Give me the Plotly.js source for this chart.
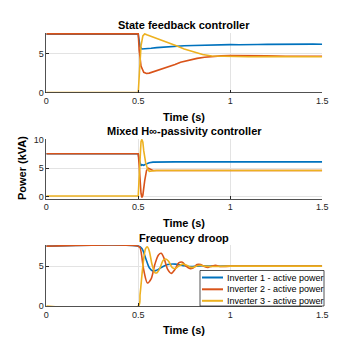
<!DOCTYPE html>
<html>
<head>
<meta charset="utf-8">
<script src="https://cdn.plot.ly/plotly-3.0.1.min.js"></script>
<style>
  html, body { margin: 0; padding: 0; background: #fff; }
  #chart { width: 356px; height: 356px; }
</style>
</head>
<body>
<div id="chart"></div>
<script>
// series names
var names = ['Inverter 1 - active power', 'Inverter 2 - active power', 'Inverter 3 - active power'];
var colors = ['#0072BD', '#D95319', '#EDB120'];

// State feedback controller
var sfT1 = [0, 0.5, 0.503, 0.51, 0.52, 0.54, 0.57, 0.6, 0.65, 0.7, 0.75, 0.8, 0.85, 0.9, 0.95, 1.0, 1.05, 1.1, 1.15, 1.2, 1.25, 1.3, 1.35, 1.4, 1.45, 1.5];
var sfP1 = [7.5, 7.5, 7.0, 5.9, 5.6, 5.62, 5.7, 5.78, 5.88, 5.95, 6.02, 6.06, 6.1, 6.12, 6.15, 6.17, 6.15, 6.2, 6.18, 6.2, 6.22, 6.18, 6.21, 6.2, 6.23, 6.22];
var sfT2 = [0, 0.5, 0.505, 0.515, 0.53, 0.545, 0.56, 0.6, 0.64, 0.68, 0.7, 0.73, 0.77, 0.82, 0.86, 0.9, 0.95, 1.0, 1.05, 1.1, 1.2, 1.3, 1.4, 1.5];
var sfP2 = [7.55, 7.55, 5.5, 3.4, 2.6, 2.45, 2.5, 2.8, 3.1, 3.4, 3.6, 3.9, 4.15, 4.4, 4.55, 4.65, 4.72, 4.75, 4.72, 4.7, 4.72, 4.68, 4.7, 4.68];
var sfT3 = [0, 0.5, 0.505, 0.515, 0.525, 0.535, 0.55, 0.6, 0.65, 0.7, 0.75, 0.8, 0.85, 0.9, 0.95, 1.0, 1.1, 1.2, 1.3, 1.4, 1.5];
var sfP3 = [0, 0, 2.0, 6.0, 7.3, 7.55, 7.4, 7.0, 6.6, 6.1, 5.6, 5.2, 4.9, 4.7, 4.65, 4.62, 4.6, 4.62, 4.6, 4.62, 4.6];

// Mixed H-infinity / passivity controller
var mxT1 = [0, 0.5, 0.505, 0.51, 0.515, 0.52, 0.53, 0.54, 0.55, 0.56, 0.58, 0.6, 0.7, 0.8, 1.0, 1.2, 1.5];
var mxP1 = [7.5, 7.5, 6.5, 5.6, 5.4, 5.6, 5.5, 5.7, 5.85, 5.95, 6.05, 6.08, 6.1, 6.1, 6.1, 6.1, 6.1];
var mxT2 = [0, 0.5, 0.505, 0.51, 0.515, 0.52, 0.525, 0.535, 0.545, 0.555, 0.565, 0.58, 0.6, 1.5];
var mxP2 = [7.5, 7.5, 5.5, 2.5, 0.6, -0.1, 0.3, 2.8, 4.6, 5.0, 4.8, 4.6, 4.6, 4.6];
var mxT3 = [0, 0.5, 0.505, 0.51, 0.515, 0.52, 0.525, 0.53, 0.54, 0.55, 0.56, 0.575, 0.6, 1.5];
var mxP3 = [0.15, 0.15, 3.5, 7.5, 9.6, 10.0, 9.5, 8.0, 6.0, 4.9, 4.45, 4.5, 4.6, 4.6];

// Frequency droop
var fdT1 = [0, 0.5, 0.52, 0.54, 0.56, 0.58, 0.6, 0.63, 0.66, 0.7, 0.74, 0.78, 0.82, 0.86, 0.9, 1.0, 1.5];
var fdP1 = [7.5, 7.5, 7.2, 6.0, 4.8, 4.4, 4.5, 4.9, 5.2, 5.25, 5.1, 4.95, 5.0, 5.05, 5.0, 5.0, 5.0];
var fdT2 = [0, 0.5, 0.51, 0.53, 0.55, 0.57, 0.59, 0.61, 0.625, 0.64, 0.66, 0.68, 0.7, 0.72, 0.74, 0.76, 0.78, 0.8, 0.82, 0.84, 0.86, 0.88, 0.9, 0.92, 0.95, 1.0, 1.5];
var fdP2 = [7.5, 7.5, 7.3, 4.5, 2.9, 3.4, 5.2, 6.4, 6.6, 6.0, 4.6, 4.1, 4.6, 5.4, 5.5, 5.0, 4.7, 4.8, 5.2, 5.2, 4.95, 4.85, 5.0, 5.1, 4.95, 5.0, 5.0];
var fdT3 = [0, 0.5, 0.51, 0.525, 0.54, 0.55, 0.56, 0.575, 0.59, 0.6, 0.615, 0.635, 0.65, 0.665, 0.685, 0.7, 0.72, 0.74, 0.76, 0.78, 0.8, 0.82, 0.84, 0.86, 0.9, 1.0, 1.5];
var fdP3 = [0, 0, 1.5, 5.0, 7.2, 7.4, 6.9, 5.2, 4.2, 4.15, 4.6, 5.7, 5.9, 5.6, 4.8, 4.7, 5.0, 5.25, 5.15, 4.9, 4.85, 5.05, 5.1, 5.0, 4.95, 5.0, 5.0];

function mk(t, p, i, ax, shape) {
  return {
    x: t, y: p, type: 'scatter', mode: 'lines',
    name: names[i], showlegend: false,
    xaxis: 'x' + ax, yaxis: 'y' + ax,
    line: {color: colors[i], width: 1.6, shape: shape || 'linear', smoothing: 0.8}
  };
}

var data = [
  mk(sfT1, sfP1, 0, ''), mk(sfT2, sfP2, 1, ''), mk(sfT3, sfP3, 2, ''),
  mk(mxT1, mxP1, 0, '2'), mk(mxT2, mxP2, 1, '2'), mk(mxT3, mxP3, 2, '2'),
  mk(fdT1, fdP1, 0, '3', 'spline'), mk(fdT2, fdP2, 1, '3', 'spline'), mk(fdT3, fdP3, 2, '3', 'spline')
];

var tickFont = {family: 'Liberation Sans, Arial, sans-serif', size: 9, color: '#262626'};
function xax(anchor) {
  return {
    domain: [0.130, 0.905], range: [0, 1.5], anchor: anchor,
    tickvals: [0, 0.5, 1, 1.5], ticktext: ['0', '0.5', '1', '1.5'],
    showgrid: true, gridcolor: '#e3e3e3', gridwidth: 1,
    zeroline: false, showline: true, linecolor: '#262626', linewidth: 0.8,
    ticks: 'inside', ticklen: 3, tickcolor: '#262626', tickfont: tickFont
  };
}
function yax(anchor, dom, rng, tv) {
  return {
    domain: dom, range: rng, anchor: anchor,
    tickvals: tv, showgrid: true, gridcolor: '#e3e3e3', gridwidth: 1,
    zeroline: false, showline: true, linecolor: '#262626', linewidth: 0.8,
    ticks: 'inside', ticklen: 3, tickcolor: '#262626', tickfont: tickFont
  };
}

var boldFont = {family: 'Liberation Sans, Arial, sans-serif', size: 11, color: '#000'};
function lbl(text, x, y, ang) {
  return {text: '<b>' + text + '</b>', x: x, y: y, xref: 'paper', yref: 'paper',
    xanchor: 'center', yanchor: 'middle', showarrow: false, font: boldFont, textangle: ang || 0};
}

// legend box drawn by hand (compact, like the original)
var px = function (v) { return v / 356; };
var py = function (v) { return 1 - v / 356; };
var legRows = [277.5, 289.3, 300.8];
var shapes = [{
  type: 'rect', xref: 'paper', yref: 'paper',
  x0: px(200), x1: px(324), y0: py(306), y1: py(270.5),
  fillcolor: '#fff', line: {color: '#262626', width: 0.8}, layer: 'above'
}];
var annotations = [
  lbl('State feedback controller', 0.517, py(25)),
  lbl('Time (s)', 0.517, py(117)),
  lbl('Mixed H\u221E-passivity controller', 0.517, py(131)),
  lbl('Time (s)', 0.517, py(223)),
  lbl('Frequency droop', 0.517, py(237.5)),
  lbl('Time (s)', 0.517, py(330)),
  lbl('Power (kVA)', px(22), py(168), -90)
];
names.forEach(function (n, i) {
  shapes.push({type: 'line', xref: 'paper', yref: 'paper',
    x0: px(202), x1: px(223), y0: py(legRows[i]), y1: py(legRows[i]),
    line: {color: colors[i], width: 2}, layer: 'above'});
  annotations.push({text: n, x: px(225), y: py(legRows[i]), xref: 'paper', yref: 'paper',
    xanchor: 'left', yanchor: 'middle', showarrow: false,
    font: {family: 'Liberation Sans, Arial, sans-serif', size: 9, color: '#000'}});
});

var layout = {
  width: 356, height: 356,
  margin: {l: 0, r: 0, t: 0, b: 0},
  paper_bgcolor: '#fff', plot_bgcolor: '#fff',
  showlegend: false,
  xaxis: xax('y'), yaxis: yax('x', [0.740, 0.907], [0, 7.65], [0, 5]),
  xaxis2: xax('y2'), yaxis2: yax('x2', [0.442, 0.610], [-0.3, 10.1], [0, 5, 10]),
  xaxis3: xax('y3'), yaxis3: yax('x3', [0.140, 0.312], [0, 7.65], [0, 5]),
  shapes: shapes,
  annotations: annotations
};

Plotly.newPlot('chart', data, layout, {staticPlot: true, displayModeBar: false});
</script>
</body>
</html>
